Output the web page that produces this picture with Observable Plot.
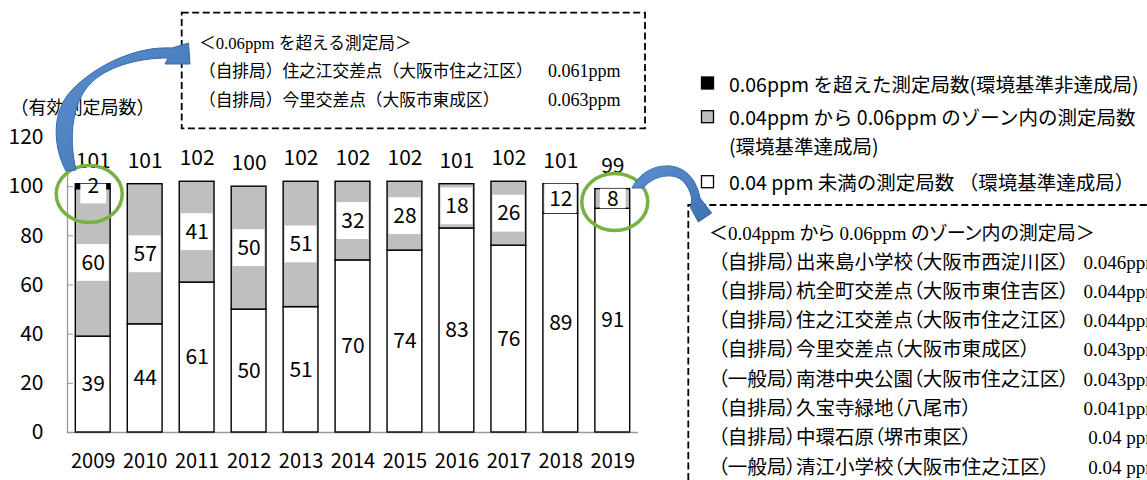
<!DOCTYPE html>
<html>
<head>
<meta charset="utf-8">
<script src="https://cdn.jsdelivr.net/npm/d3@7"></script>
<script src="https://cdn.jsdelivr.net/npm/@observablehq/plot@0.6"></script>
<style>
  html, body { margin: 0; padding: 0; background: #fff; }
  #wrap { position: relative; width: 1147px; height: 480px; overflow: hidden; background: #fff; }
  #wrap > svg { position: absolute; left: 0; top: 0; }
  #overlay { position: absolute; left: 0; top: 0; pointer-events: none; }
</style>
</head>
<body>
<div id="wrap"></div>
<script>
// ---- data ----
const years = ["2009","2010","2011","2012","2013","2014","2015","2016","2017","2018","2019"];
const under004 = [39,44,61,50,51,70,74,83,76,89,91];
const zone004to006 = [60,57,41,50,51,32,28,18,26,12,8];
const over006 = [2,0,0,0,0,0,0,0,0,0,0];
const totals = [101,101,102,100,102,102,102,101,102,101,99];
const yTicks = [0,20,40,60,80,100,120];
const yTitle = "（有効測定局数）";
const seriesKeys = ["under", "zone", "over"];
const circledYears = ["2009","2019"];

const legendLines = [
  ["0.06ppm を超えた測定局数(環境基準非達成局)"],
  ["0.04ppm から 0.06ppm のゾーン内の測定局数", "(環境基準達成局)"],
  ["0.04 ppm 未満の測定局数 （環境基準達成局）"]
];
const overTitle = "＜0.06ppm を超える測定局＞";
const overStations = ["（自排局）住之江交差点（大阪市住之江区）", "（自排局）今里交差点（大阪市東成区）"];
const overValues = ["0.061ppm", "0.063ppm"];
const zoneTitle = "＜0.04ppm から 0.06ppm のゾーン内の測定局＞";
const zoneStations = [
  "（自排局）出来島小学校（大阪市西淀川区）",
  "（自排局）杭全町交差点（大阪市東住吉区）",
  "（自排局）住之江交差点（大阪市住之江区）",
  "（自排局）今里交差点（大阪市東成区）",
  "（一般局）南港中央公園（大阪市住之江区）",
  "（自排局）久宝寺緑地（八尾市）",
  "（自排局）中環石原（堺市東区）",
  "（一般局）清江小学校（大阪市住之江区）"
];
const zoneValues = ["0.046ppm","0.044ppm","0.044ppm","0.043ppm","0.043ppm","0.041ppm","0.04 ppm","0.04 ppm"];

// ---- derived tables ----
const fills = {under: "#ffffff", zone: "#bfbfbf", over: "#000000"};
const segs = [];
years.forEach((yr, i) => {
  const vals = [under004[i], zone004to006[i], over006[i]];
  let base = 0;
  vals.forEach((v, k) => {
    segs.push({year: yr, key: seriesKeys[k], v, y1: base, y2: base + v, mid: base + v / 2});
    base += v;
  });
});
const shown = segs.filter(d => d.v > 0);
const boxed = shown.filter(d => d.key !== "under").map(d => {
  const top = Math.min(d.y2, d.mid + 7.5);
  let bottom = Math.max(d.y1, d.mid - 7.5);
  if (top - bottom < 8) bottom = top - 8;
  return {...d, b1: bottom, b2: top, digits: String(d.v).length};
});
const totalRows = years.map((yr, i) => ({year: yr, total: totals[i]}));
const circleRows = circledYears.map(yr => {
  const b = boxed.filter(d => d.year === yr).sort((a, c) => c.b2 - a.b2)[0];
  return {year: yr, y: (b.b1 + b.b2) / 2};
});

const ellipse = {draw(ctx) {
  const rx = 33, ry = 28.5, k = 0.5523;
  ctx.moveTo(rx, 0);
  ctx.bezierCurveTo(rx, ry * k, rx * k, ry, 0, ry);
  ctx.bezierCurveTo(-rx * k, ry, -rx, ry * k, -rx, 0);
  ctx.bezierCurveTo(-rx, -ry * k, -rx * k, -ry, 0, -ry);
  ctx.bezierCurveTo(rx * k, -ry, rx, -ry * k, rx, 0);
  ctx.closePath();
}};

const numFont = "'Noto Sans CJK JP', 'Noto Sans', sans-serif";

const chart = Plot.plot({
  width: 1147,
  height: 480,
  marginLeft: 67,
  marginRight: 509,
  marginTop: 137,
  marginBottom: 48,
  style: {fontFamily: numFont, fontSize: "21px", color: "#000", background: "transparent", overflow: "visible"},
  x: {domain: years, paddingInner: 0.33, paddingOuter: 0.16, round: false, label: null},
  y: {domain: [0, 120], label: null},
  color: {domain: seriesKeys, range: seriesKeys.map(k => fills[k])},
  marks: [
    Plot.frame({anchor: "left", stroke: "#9a9a9a", strokeWidth: 1.3}),
    Plot.ruleY([0], {stroke: "#9a9a9a", strokeWidth: 1.5}),
    Plot.axisY({ticks: yTicks, tickSize: -6, tickPadding: 30, stroke: "#9a9a9a", fontSize: 21, label: null}),
    Plot.axisX({tickSize: 0, tickPadding: 21, fontSize: 20, label: null}),
    Plot.barY(shown, {x: "year", y1: "y1", y2: "y2", fill: "key", stroke: "#000", strokeWidth: 1.4}),
    Plot.barY(boxed.filter(d => d.digits > 1), {x: "year", y1: "b1", y2: "b2", fill: "#fff", insetLeft: 1.5, insetRight: 1.5}),
    Plot.barY(boxed.filter(d => d.digits === 1), {x: "year", y1: "b1", y2: "b2", fill: "#fff", insetLeft: 5, insetRight: 4}),
    Plot.text(shown, {x: "year", y: "mid", text: d => String(d.v), fontSize: 21, fill: "#000"}),
    Plot.text(totalRows, {x: "year", y: "total", text: d => String(d.total), dy: -23, fontSize: 21, fill: "#000"}),
    Plot.dot(circleRows.slice(0, 1), {x: "year", y: "y", symbol: ellipse, fill: "none", stroke: "#77b144", strokeWidth: 3.5, dx: -4}),
    Plot.dot(circleRows.slice(1), {x: "year", y: "y", symbol: ellipse, fill: "none", stroke: "#77b144", strokeWidth: 3.5, dx: 2, dy: 3}),
    Plot.text([yTitle], {frameAnchor: "top-left", text: d => d, textAnchor: "start", dx: -57, dy: -36, fontSize: 18, fill: "#000", style: "font-feature-settings: 'palt'"})
  ]
});
const wrap = document.getElementById("wrap");
wrap.appendChild(chart);

// ---- overlay annotations ----
const ov = d3.select(wrap).append("svg").attr("id", "overlay").attr("width", 1147).attr("height", 480);
const defs = ov.append("defs");
const g = defs.append("linearGradient").attr("id", "arrowGrad").attr("x1", 0).attr("y1", 0).attr("x2", 1).attr("y2", 1);
g.append("stop").attr("offset", "0%").attr("stop-color", "#5b8fd0");
g.append("stop").attr("offset", "60%").attr("stop-color", "#4a7ebf");
g.append("stop").attr("offset", "100%").attr("stop-color", "#3f70ae");

// dashed boxes
ov.append("rect").attr("x", 181.7).attr("y", 12.7).attr("width", 463.3).attr("height", 115.6)
  .attr("fill", "none").attr("stroke", "#000").attr("stroke-width", 1.8).attr("stroke-dasharray", "7 3.5");
ov.append("rect").attr("x", 688.3).attr("y", 205).attr("width", 500).attr("height", 320)
  .attr("fill", "none").attr("stroke", "#000").attr("stroke-width", 1.8).attr("stroke-dasharray", "7 3.5");

// arrows
ov.append("path")
  .attr("d", "M66,171 C52,145 52,110 72,90 C95,66 135,46 172,48 L188.5,43 L190,64 L165,64 L168,58 C135,58 105,68 90,84 C73,102 68,135 76,170 Z")
  .attr("fill", "url(#arrowGrad)").attr("stroke", "#3b6aa6").attr("stroke-width", 1);
ov.append("path")
  .attr("d", "M632,188 C640,172 655,165 670,166 C688,168 697,182 700,198 L711.7,213 L698.3,222 L690.7,208 L691.7,198 C689,186 682,177 672,176 C660,175 650,180 643,188 Z")
  .attr("fill", "url(#arrowGrad)").attr("stroke", "#3b6aa6").attr("stroke-width", 1);

// top box text
const serifJP = "'Liberation Serif', 'Noto Sans CJK JP', serif";
ov.append("text").attr("x", 199).attr("y", 43).attr("dominant-baseline", "central")
  .attr("font-family", serifJP).attr("font-size", 16.7).text(overTitle);
overStations.forEach((s, i) => {
  const y = 71 + i * 29;
  ov.append("text").attr("x", 199).attr("y", y).attr("dominant-baseline", "central")
    .attr("font-family", serifJP).attr("font-size", 16.7).text(s);
  ov.append("text").attr("x", 548).attr("y", y).attr("dominant-baseline", "central")
    .attr("font-family", serifJP).attr("font-size", 18).text(overValues[i]);
});

// right box text
ov.append("text").attr("x", 709).attr("y", 233).attr("dominant-baseline", "central")
  .attr("font-family", serifJP).attr("font-size", 19).style("font-feature-settings", "'palt'").text(zoneTitle);
zoneStations.forEach((s, i) => {
  const y = 262 + i * 29.3;
  ov.append("text").attr("x", 718).attr("y", y).attr("dominant-baseline", "central")
    .attr("font-family", serifJP).attr("font-size", 19.5).style("font-feature-settings", "'palt'").text(s);
  ov.append("text").attr("x", 1160).attr("y", y).attr("dominant-baseline", "central").attr("text-anchor", "end")
    .attr("font-family", serifJP).attr("font-size", 19).text(zoneValues[i]);
});

// legend
const legendKeys = ["over", "zone", "under"];
const legendY = [83, 116.7, 181.7];
legendKeys.forEach((k, i) => {
  ov.append("rect").attr("x", 701.5).attr("y", legendY[i] - 6).attr("width", 12).attr("height", 12)
    .attr("fill", fills[k]).attr("stroke", "#000").attr("stroke-width", 1.3);
  legendLines[i].forEach((t, j) => {
    ov.append("text").attr("x", 729).attr("y", legendY[i] + j * 28.5).attr("dominant-baseline", "central")
      .attr("font-family", "'Noto Sans CJK JP', sans-serif").attr("font-size", 19.5).text(t);
  });
});
</script>
</body>
</html>
